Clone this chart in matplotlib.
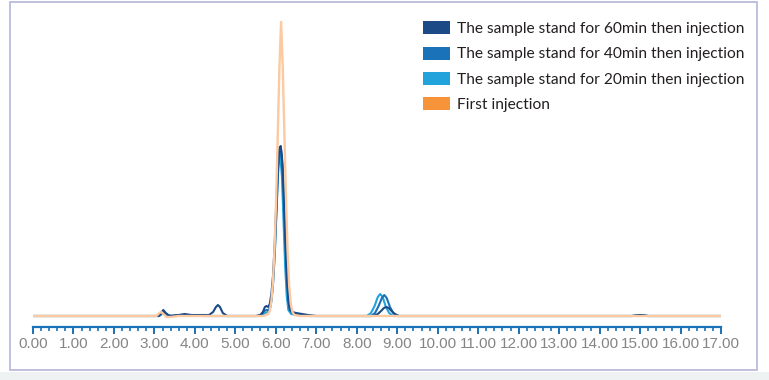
import matplotlib
matplotlib.use("Agg")
import matplotlib.pyplot as plt
from matplotlib.patches import Patch, Rectangle
from matplotlib.ticker import MultipleLocator

# retention time (min) / signal (arbitrary, baseline = 0)
t_first = [0.0, 3.05, 3.12, 3.17, 3.22, 3.30, 3.40, 3.60, 5.70, 5.81, 5.85, 5.89, 5.93, 5.97,
           6.01, 6.05, 6.09, 6.13, 6.17, 6.21, 6.25, 6.29, 6.33, 6.37, 6.41, 6.46, 6.60, 17.0]
y_first = [0, 0, 3, 4, 2, -1, -1, 0, 0, 2, 5, 15, 35, 70,
           120, 185, 250, 294, 250, 185, 120, 65, 30, 12, 4, 1, 0, 0]

t_60 = [0.0, 3.10, 3.16, 3.22, 3.28, 3.36, 3.60, 3.75, 3.90, 4.10, 4.35, 4.45, 4.52, 4.57,
        4.62, 4.69, 4.80, 5.50, 5.62, 5.68, 5.73, 5.77, 5.81, 5.85, 5.89, 5.93, 5.97, 6.01,
        6.05, 6.09, 6.12, 6.15, 6.19, 6.23, 6.27, 6.31, 6.35, 6.40, 6.50, 6.65, 6.80, 7.00,
        8.40, 8.52, 8.60, 8.67, 8.73, 8.79, 8.86, 8.94, 9.05, 14.8, 15.0, 15.2, 17.0]
y_60 = [0, 0, 3, 6, 3, 0, 1, 2, 1, 1, 1, 4, 9, 11,
        9, 3, 0, 0, 1, 4, 9, 10, 9, 12, 22, 40, 70, 110,
        150, 168, 170, 160, 125, 80, 40, 15, 6, 4, 3, 2, 1, 0,
        0, 2, 5, 8, 9, 8, 5, 2, 0, 0, 1, 0, 0]

t_40 = [0.0, 3.10, 3.17, 3.23, 3.30, 3.40, 3.70, 3.90, 4.20, 5.55, 5.65, 5.72, 5.77, 5.82,
        5.86, 5.90, 5.94, 5.98, 6.02, 6.06, 6.10, 6.13, 6.17, 6.21, 6.25, 6.29, 6.33, 6.40,
        6.55, 6.80, 8.35, 8.45, 8.54, 8.62, 8.68, 8.74, 8.82, 8.90, 9.00, 14.8, 15.0, 15.2, 17.0]
y_40 = [0, 0, 2, 4, 2, 0, 1, 1, 0, 0, 2, 5, 6, 6,
        8, 18, 38, 68, 108, 148, 164, 166, 150, 110, 65, 30, 10, 3,
        2, 0, 0, 3, 10, 18, 21, 18, 9, 3, 0, 0, 1, 0, 0]

t_20 = [0.0, 3.12, 3.19, 3.25, 3.32, 3.45, 3.70, 3.90, 4.20, 5.55, 5.66, 5.74, 5.80, 5.85,
        5.89, 5.93, 5.97, 6.01, 6.05, 6.08, 6.11, 6.15, 6.19, 6.23, 6.27, 6.31, 6.38, 6.50,
        6.70, 8.25, 8.35, 8.44, 8.52, 8.58, 8.64, 8.72, 8.80, 8.90, 14.8, 15.0, 15.2, 17.0]
y_20 = [0, 0, 2, 3, 1, 0, 1, 1, 0, 0, 1, 3, 4, 7,
        15, 32, 60, 100, 142, 158, 160, 140, 95, 50, 20, 6, 2, 1,
        0, 0, 3, 10, 19, 22, 19, 9, 3, 0, 0, 1, 0, 0]

labels = ["The sample stand for 60min then injection",
          "The sample stand for 40min then injection",
          "The sample stand for 20min then injection",
          "First injection"]
colors = ["#1b4a87", "#1a72b8", "#22a3dc", "#f7943a"]
first_line = "#fcc9a0"  # the orange trace is drawn pale in the original

W, H = 769, 380
fig = plt.figure(figsize=(W / 100, H / 100), dpi=100)

# page strip at the bottom and the lavender frame
fig.patches.append(Rectangle((0, 0), 1, 8 / H, transform=fig.transFigure,
                             facecolor="#eef2f3", edgecolor="none", zorder=0))
fig.patches.append(Rectangle((10 / W, 10 / H), 747 / W, 368 / H, transform=fig.transFigure,
                             facecolor="none", edgecolor="#b4b4da", linewidth=1.2, zorder=1))

ax = fig.add_axes([33 / W, (H - 327) / H, 688 / W, 316 / H])
ax.patch.set_alpha(0)

ax.plot(t_20, y_20, color=colors[2], lw=1.5, zorder=2)
ax.plot(t_40, y_40, color=colors[1], lw=1.5, zorder=3)
ax.plot(t_60, y_60, color=colors[0], lw=1.5, zorder=3)
ax.plot(t_first, y_first, color=first_line, lw=1.7, zorder=4)

ax.set_xlim(0, 17)
ax.set_ylim(-11, 305)
for s in ["top", "right", "left"]:
    ax.spines[s].set_visible(False)
ax.spines["bottom"].set_color("#1a72b8")
ax.spines["bottom"].set_linewidth(1.6)
ax.set_yticks([])
ax.xaxis.set_minor_locator(MultipleLocator(0.2))
ax.set_xticks(range(18))
ax.set_xticklabels([f"{i}.00" for i in range(18)])
ax.tick_params(axis="x", which="major", direction="out", length=5, width=1.4,
               color="#1a72b8", labelcolor="#858585", labelsize=11, pad=2)
ax.tick_params(axis="x", which="minor", direction="out", length=3, width=1.2, color="#1a72b8")
for lab in ax.get_xticklabels():
    lab.set_fontfamily("Liberation Sans")

handles = [Patch(facecolor=c, edgecolor="none") for c in colors]
leg = ax.legend(handles, labels, loc="upper left", bbox_to_anchor=(417 / W, (H - 15) / H),
                bbox_transform=fig.transFigure, frameon=False, handlelength=1.75,
                handleheight=0.9, handletextpad=0.45, labelspacing=0.68,
                prop={"family": "Lato", "size": 11.2}, borderaxespad=0)
for txt in leg.get_texts():
    txt.set_color("#231f20")

fig.savefig("out.png", dpi=100)
